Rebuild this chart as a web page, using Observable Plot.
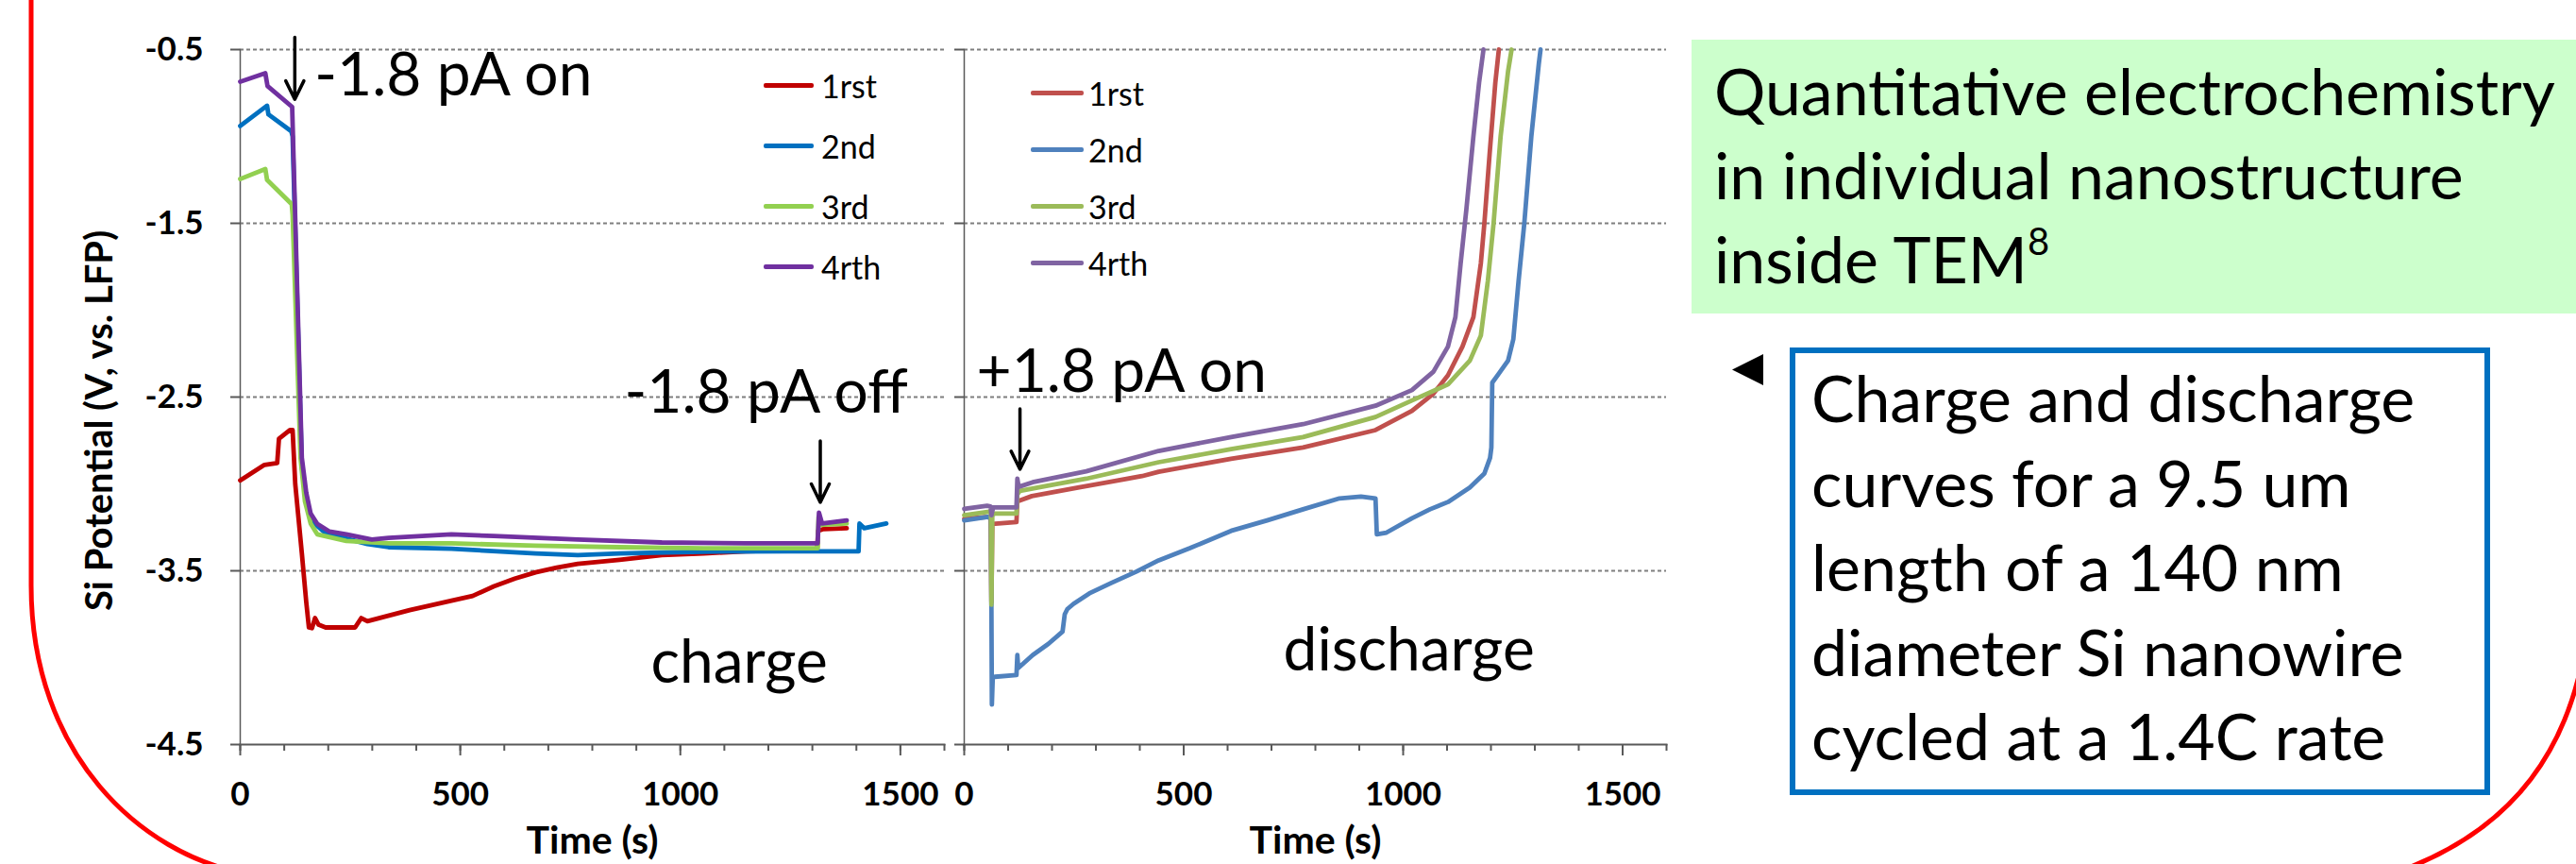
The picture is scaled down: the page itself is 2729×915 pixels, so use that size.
<!DOCTYPE html>
<html>
<head>
<meta charset="utf-8">
<script src="https://cdn.jsdelivr.net/npm/d3@7"></script>
<script src="https://cdn.jsdelivr.net/npm/@observablehq/plot@0.6"></script>
<style>
  html, body { margin: 0; padding: 0; background: #fff; }
  #root { position: relative; width: 2729px; height: 915px; overflow: hidden; font-family: Lato, "Open Sans", sans-serif; }
  .abs { position: absolute; }
  .panel svg { overflow: visible; }
  .legend-row { position: absolute; display: flex; align-items: center; height: 40px; font-size: 34px; color: #000; }
  .legend-row .sw { display: inline-block; height: 5px; border-radius: 2px; }
  .box-text { font-size: 68px; line-height: 89px; color: #000; white-space: nowrap; }
</style>
</head>
<body>
<div id="root"></div>
<script>
// ---------------- data ----------------
const series = ["1rst", "2nd", "3rd", "4rth"];
const chargeColors = ["#C00000", "#0070C0", "#92D050", "#7030A0"];
const dischargeColors = ["#C0504D", "#4F81BD", "#9BBB59", "#8064A2"];
const yTicks = [-4.5, -3.5, -2.5, -1.5, -0.5];
const xTickLabels = [0, 500, 1000, 1500];
const xMinorTicks = [0, 100, 200, 300, 400, 500, 600, 700, 800, 900, 1000, 1100, 1200, 1300, 1400, 1500, 1600];

// [time (s), Si potential (V vs LFP)]
const charge1rst = [[0,-2.98],[55,-2.89],[84,-2.88],[88,-2.74],[113,-2.69],[119,-2.69],[125,-3.0],[140,-3.4],[150,-3.68],[156,-3.826],[163,-3.83],[170,-3.772],[178,-3.81],[194,-3.826],[261,-3.826],[275,-3.772],[289,-3.79],[385,-3.726],[480,-3.672],[528,-3.645],[576,-3.59],[624,-3.545],[671,-3.509],[719,-3.482],[767,-3.46],[862,-3.437],[958,-3.41],[1053,-3.40],[1149,-3.388],[1244,-3.382],[1311,-3.373],[1313,-3.27],[1325,-3.26],[1378,-3.255]];
const charge2nd = [[0,-0.94],[61,-0.823],[64,-0.873],[116,-0.97],[119,-1.0],[140,-2.9],[150,-3.1],[165,-3.22],[194,-3.283],[289,-3.346],[337,-3.364],[480,-3.373],[671,-3.40],[767,-3.41],[862,-3.40],[1053,-3.39],[1244,-3.388],[1405,-3.388],[1407,-3.228],[1418,-3.255],[1468,-3.228]];
const charge3rd = [[0,-1.245],[57,-1.187],[61,-1.25],[117,-1.39],[119,-1.45],[137,-2.85],[147,-3.1],[160,-3.228],[175,-3.29],[241,-3.328],[337,-3.342],[480,-3.342],[671,-3.355],[862,-3.364],[1053,-3.37],[1312,-3.37],[1314,-3.19],[1320,-3.235],[1378,-3.228]];
const charge4rth = [[0,-0.685],[57,-0.636],[62,-0.71],[118,-0.83],[140,-2.85],[150,-3.05],[160,-3.17],[175,-3.23],[203,-3.274],[241,-3.29],[299,-3.32],[337,-3.31],[480,-3.29],[576,-3.30],[767,-3.32],[958,-3.337],[1149,-3.342],[1312,-3.342],[1315,-3.165],[1322,-3.228],[1378,-3.21]];

const discharge1rst = [[0,-3.2],[55,-3.19],[60,-3.2],[62,-3.68],[64,-3.23],[119,-3.22],[121,-3.10],[154,-3.07],[262,-3.02],[405,-2.955],[443,-2.93],[608,-2.855],[772,-2.79],[937,-2.69],[1020,-2.58],[1069,-2.48],[1102,-2.375],[1135,-2.21],[1160,-2.04],[1177,-1.73],[1185,-1.5],[1197,-1.10],[1210,-0.69],[1218,-0.5]];
const discharge2nd = [[0,-3.21],[54,-3.19],[61,-3.2],[63,-4.27],[65,-4.115],[70,-4.11],[119,-4.10],[121,-3.985],[123,-4.06],[156,-3.985],[192,-3.92],[224,-3.85],[229,-3.75],[235,-3.72],[249,-3.69],[285,-3.63],[335,-3.57],[392,-3.505],[443,-3.44],[514,-3.37],[608,-3.27],[690,-3.21],[772,-3.146],[855,-3.083],[904,-3.073],[937,-3.083],[940,-3.29],[962,-3.28],[1020,-3.198],[1061,-3.146],[1102,-3.104],[1152,-3.02],[1185,-2.94],[1198,-2.85],[1201,-2.79],[1203,-2.417],[1218,-2.365],[1239,-2.29],[1251,-2.167],[1263,-1.83],[1276,-1.5],[1292,-1.0],[1309,-0.583],[1313,-0.5]];
const discharge3rd = [[0,-3.18],[57,-3.16],[61,-3.17],[62,-3.695],[64,-3.18],[70,-3.17],[119,-3.17],[121,-3.06],[127,-3.04],[190,-3.01],[278,-2.97],[443,-2.875],[608,-2.80],[772,-2.73],[937,-2.615],[1020,-2.52],[1102,-2.427],[1152,-2.29],[1177,-2.146],[1193,-1.83],[1206,-1.5],[1222,-1.0],[1239,-0.625],[1247,-0.5]];
const discharge4rth = [[0,-3.144],[52,-3.126],[60,-3.13],[62,-3.18],[66,-3.135],[119,-3.135],[121,-2.97],[124,-3.017],[156,-2.99],[278,-2.927],[443,-2.81],[608,-2.73],[772,-2.656],[937,-2.55],[1020,-2.46],[1069,-2.354],[1102,-2.21],[1119,-2.04],[1131,-1.73],[1144,-1.42],[1160,-1.0],[1173,-0.69],[1183,-0.5]];

// annotations: label anchored at (time, potential baseline)
const chargeNotes = [
  {label: "-1.8 pA on", t: 169, v: -0.765},
  {label: "-1.8 pA off", t: 873, v: -2.59},
  {label: "charge", t: 933, v: -4.146}
];
const chargeArrows = [{t: 124, from: -0.43, to: -0.787}, {t: 1318, from: -2.753, to: -3.106}];
const dischargeNotes = [
  {label: "+1.8 pA on", t: 28, v: -2.471},
  {label: "discharge", t: 727, v: -4.074}
];
const dischargeArrows = [{t: 127, from: -2.568, to: -2.916}];

const titleLines = ["Quantitative electrochemistry", "in individual nanostructure", "inside TEM"];
const titleSup = "8";
const captionLines = ["Charge and discharge", "curves for a 9.5 um", "length of a 140 nm", "diameter Si nanowire", "cycled at a 1.4C rate"];

// ---------------- build ----------------
const toRows = (arrs) => arrs.flatMap((a, i) => a.map(([t, v]) => ({series: series[i], t, v})));
const chargeRows = toRows([charge1rst, charge2nd, charge3rd, charge4rth]);
const dischargeRows = toRows([discharge1rst, discharge2nd, discharge3rd, discharge4rth]);

const AX = "#595959";
const GRID = "#7f7f7f";

function panel({rows, colors, width, marginLeft, marginRight, yLabels, notes, arrows}) {
  const marks = [
    Plot.gridY({ticks: [-3.5, -2.5, -1.5, -0.5], stroke: GRID, strokeOpacity: 1, strokeWidth: 2, strokeDasharray: "4,3"}),
    Plot.axisY({ticks: yTicks, tickSize: 10, tickFormat: () => "", stroke: AX, strokeWidth: 2, label: null}),
    Plot.axisX({ticks: xMinorTicks, tickSize: 7, tickFormat: () => "", stroke: AX, strokeWidth: 2, label: null}),
    Plot.axisX({ticks: xTickLabels, tickSize: 12, tickFormat: () => "", stroke: AX, strokeWidth: 2, label: null}),
    Plot.axisX({ticks: xTickLabels, tickSize: 0, tickPadding: 40, tickFormat: d => String(d), fontSize: 35, fontWeight: 700, color: "#000", label: null}),
    Plot.frame({anchor: "left", stroke: AX, strokeWidth: 1.5}),
    Plot.frame({anchor: "bottom", stroke: AX, strokeWidth: 2}),
    Plot.line(rows, {x: "t", y: "v", z: "series", stroke: "series", strokeWidth: 4.8, strokeLinejoin: "round", strokeLinecap: "round"}),
    Plot.text(notes, {x: "t", y: "v", text: "label", textAnchor: "start", lineAnchor: "bottom", fontSize: 64, fill: "#000"}),
    Plot.arrow(arrows, {x1: "t", x2: "t", y1: "from", y2: "to", stroke: "#000", strokeWidth: 3.5, headLength: 24, headAngle: 52}),
    Plot.text(["Time (s)"], {frameAnchor: "bottom", dy: 115, lineAnchor: "bottom", fontSize: 41, fontWeight: 700, fill: "#000"})
  ];
  if (yLabels) {
    marks.push(Plot.axisY({ticks: yTicks, tickSize: 0, tickPadding: 39, tickFormat: d => d.toFixed(1), fontSize: 35, fontWeight: 700, color: "#000", label: null}));
    marks.push(Plot.text(["Si Potential (V, vs. LFP)"], {frameAnchor: "left", dx: -136, dy: 25, rotate: -90, lineAnchor: "bottom", textAnchor: "middle", fontSize: 40, fontWeight: 700, fill: "#000"}));
  }
  return Plot.plot({
    width, height: 915,
    marginLeft, marginRight, marginTop: 52, marginBottom: 127,
    x: {domain: [0, 1600], label: null},
    y: {domain: [-4.5, -0.5], label: null},
    color: {domain: series, range: colors},
    style: {fontFamily: "Lato, 'Open Sans', sans-serif", background: "transparent", overflow: "visible"},
    marks
  });
}

const root = document.getElementById("root");

// red slide frame and bullet (decoration)
const frameSvg = document.createElementNS("http://www.w3.org/2000/svg", "svg");
frameSvg.setAttribute("width", 2729); frameSvg.setAttribute("height", 915);
frameSvg.setAttribute("class", "abs");
frameSvg.style.left = "0px"; frameSvg.style.top = "0px";
frameSvg.innerHTML = `<path d="M33,-10 L33,620 C33,800 150,905 260,925" fill="none" stroke="#FF0000" stroke-width="5"/>
<path d="M2745,600 C2745,800 2650,890 2520,930" fill="none" stroke="#FF0000" stroke-width="5"/>
<polygon points="1868,375 1868,408 1835,391.5" fill="#000"/>`;
root.appendChild(frameSvg);

const left = panel({rows: chargeRows, colors: chargeColors, width: 1010, marginLeft: 254, marginRight: 10, yLabels: true, notes: chargeNotes, arrows: chargeArrows});
const leftWrap = document.createElement("div");
leftWrap.className = "abs panel"; leftWrap.style.left = "0px"; leftWrap.style.top = "0px";
leftWrap.appendChild(left); root.appendChild(leftWrap);

const right = panel({rows: dischargeRows, colors: dischargeColors, width: 780, marginLeft: 21, marginRight: 15, yLabels: false, notes: dischargeNotes, arrows: dischargeArrows});
const rightWrap = document.createElement("div");
rightWrap.className = "abs panel"; rightWrap.style.left = "1000px"; rightWrap.style.top = "0px";
rightWrap.appendChild(right); root.appendChild(rightWrap);

// legends
function legend(x0, y0, pitch, swatchW, gap, colors) {
  series.forEach((s, i) => {
    const row = document.createElement("div");
    row.className = "legend-row";
    row.style.left = x0 + "px";
    row.style.top = (y0 + i * pitch - 20) + "px";
    const sw = document.createElement("span");
    sw.className = "sw"; sw.style.width = swatchW + "px"; sw.style.background = colors[i];
    const tx = document.createElement("span");
    tx.textContent = s; tx.style.marginLeft = gap + "px";
    row.appendChild(sw); row.appendChild(tx);
    root.appendChild(row);
  });
}
legend(809, 90, 64.3, 53, 8, chargeColors);
legend(1092, 98, 60.3, 56, 5, dischargeColors);

// green title box
const green = document.createElement("div");
green.className = "abs box-text";
Object.assign(green.style, {left: "1792px", top: "42px", width: "960px", height: "290px", background: "#CCFFCC", boxSizing: "border-box", padding: "9px 0 0 24px"});
green.innerHTML = titleLines.map((l, i) => i === 2 ? `<div>${l}<span style="font-size:40px;position:relative;top:-30px;">${titleSup}</span></div>` : `<div>${l}</div>`).join("");
root.appendChild(green);

// blue caption box
const blue = document.createElement("div");
blue.className = "abs box-text";
Object.assign(blue.style, {left: "1896px", top: "368px", width: "742px", height: "474px", border: "6px solid #0070C0", boxSizing: "border-box", padding: "2px 0 0 17px", background: "#fff", lineHeight: "89.5px"});
blue.innerHTML = captionLines.map(l => `<div>${l}</div>`).join("");
root.appendChild(blue);
</script>
</body>
</html>
